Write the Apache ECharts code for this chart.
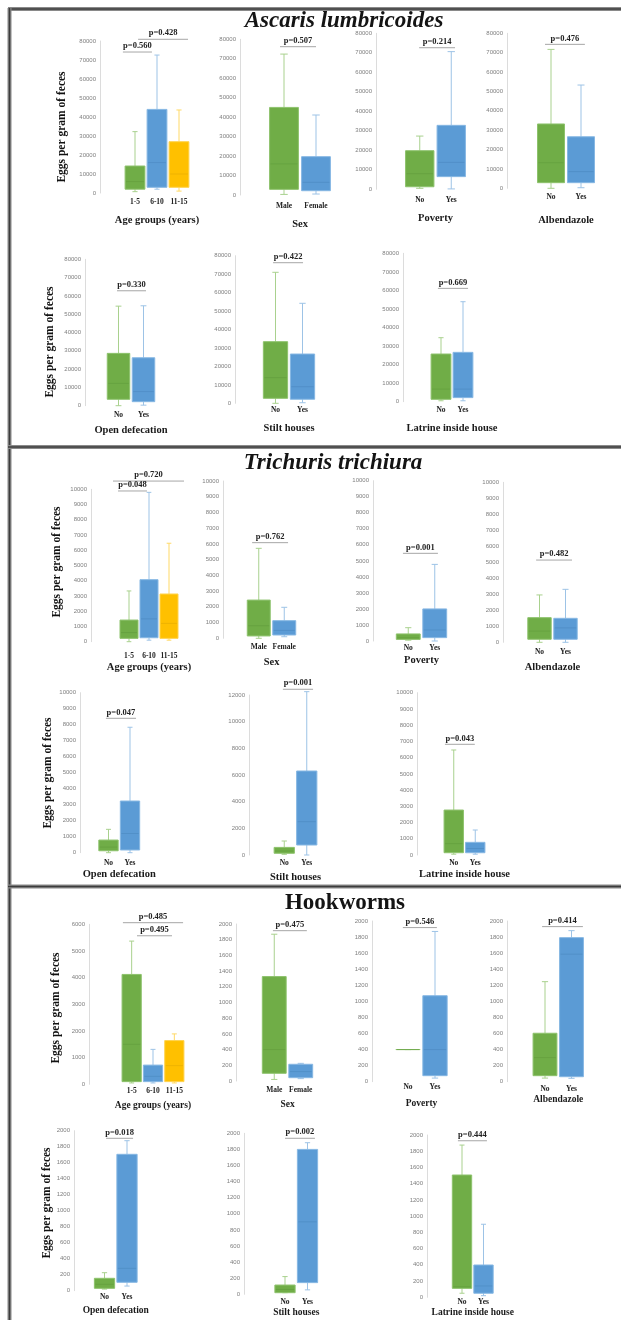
<!DOCTYPE html>
<html><head><meta charset="utf-8">
<script src="https://cdn.jsdelivr.net/npm/echarts@6/dist/echarts.min.js"></script>
<style>html,body{margin:0;padding:0;background:#fff}#c{width:621px;height:1320px}</style>
</head><body><div id="c"></div>
<script>
// ================= DATA =================
const parasiteNames = ['Ascaris lumbricoides', 'Trichuris trichiura', 'Hookworms'];
const factorNames = ['Age groups (years)', 'Sex', 'Poverty', 'Albendazole', 'Open defecation', 'Stilt houses', 'Latrine inside house'];
const ageCats = ['1-5', '6-10', '11-15'];
const sexCats = ['Male', 'Female'];
const noYesCats = ['No', 'Yes'];
const yAxisTitle = 'Eggs per gram of feces';

// each group: [min, Q1, median, Q3, max]  (eggs per gram of feces)
const ascarisAge = [[700, 2000, 6000, 14200, 32300], [2000, 3000, 16000, 44000, 72600], [1000, 3000, 10000, 27000, 43700]];
const ascarisSex = [[300, 2900, 16000, 45000, 72400], [500, 2200, 6500, 19700, 41100]];
const ascarisPoverty = [[500, 1300, 8000, 19800, 27300], [200, 6500, 13800, 32800, 70600]];
const ascarisAlbendazole = [[0, 2900, 13200, 33200, 71700], [300, 2900, 8600, 26600, 53300]];
const ascarisOpenDef = [[0, 3500, 12200, 28600, 54400], [300, 2200, 7700, 26200, 54600]];
const ascarisStilt = [[0, 2700, 13900, 33400, 71000], [300, 2200, 9000, 26700, 54200]];
const ascarisLatrine = [[500, 1300, 6800, 25700, 34500], [500, 2200, 6800, 26600, 53900]];

const trichurisAge = [[0, 220, 600, 1420, 3330], [100, 260, 1500, 4070, 9800], [100, 220, 1200, 3130, 6460]];
const trichurisSex = [[0, 150, 800, 2430, 5720], [100, 210, 500, 1120, 1970]];
const trichurisPoverty = [[50, 100, 200, 440, 830], [0, 210, 690, 2000, 4780]];
const trichurisAlbendazole = [[0, 190, 700, 1540, 2960], [0, 190, 900, 1500, 3310]];
const trichurisOpenDef = [[0, 120, 350, 790, 1460], [0, 170, 1200, 3230, 7840]];
const trichurisStilt = [[50, 130, 300, 570, 1050], [0, 750, 2500, 6300, 12250]];
const trichurisLatrine = [[50, 140, 700, 2770, 6470], [50, 140, 400, 780, 1540]];

const hookwormAge = [[50, 100, 1500, 4120, 5370], [50, 100, 300, 720, 1310], [50, 100, 700, 1640, 1890]];
const hookwormSex = [[20, 98, 400, 1330, 1870], [30, 42, 120, 213, 225]];
const hookwormPoverty = [[400, 400, 400, 400, 400], [45, 75, 400, 1070, 1870]];
const hookwormAlbendazole = [[45, 75, 300, 603, 1245], [42, 62, 1587, 1793, 1880]];
const hookwormOpenDef = [[20, 30, 80, 155, 225], [58, 105, 280, 1705, 1875]];
const hookwormStilt = [[20, 20, 60, 115, 220], [55, 145, 900, 1800, 1883]];
const hookwormLatrine = [[50, 110, 130, 1507, 1876], [20, 50, 140, 398, 900]];

// p-values
const ascarisP = [['p=0.428', 'p=0.560'], ['p=0.507'], ['p=0.214'], ['p=0.476'], ['p=0.330'], ['p=0.422'], ['p=0.669']];
const trichurisP = [['p=0.720', 'p=0.048'], ['p=0.762'], ['p=0.001'], ['p=0.482'], ['p=0.047'], ['p=0.001'], ['p=0.043']];
const hookwormP = [['p=0.485', 'p=0.495'], ['p=0.475'], ['p=0.546'], ['p=0.414'], ['p=0.018'], ['p=0.002'], ['p=0.444']];

// y-axis ticks (max, step)
const ascarisYMax = [80000, 80000, 80000, 80000, 80000, 80000, 80000];
const ascarisYStep = [10000, 10000, 10000, 10000, 10000, 10000, 10000];
const trichurisYMax = [10000, 10000, 10000, 10000, 10000, 12000, 10000];
const trichurisYStep = [1000, 1000, 1000, 1000, 1000, 2000, 1000];
const hookwormYMax = [6000, 2000, 2000, 2000, 2000, 2000, 2000];
const hookwormYStep = [1000, 200, 200, 200, 200, 200, 200];

// ================= LAYOUT (pixels) =================
// [axisLineX, plotTop, plotBottom, bandLeft, bandWidth, catLabelY, axisTitleY]
const LAYOUT = [
  [[100, 41, 193, 124, 66, 202, 220], [240, 39.3, 195, 268, 64, 206, 224], [376, 33.3, 189.3, 404, 63, 200, 218], [507, 33.3, 188.3, 536, 60, 197, 220],
   [85, 259.3, 405.7, 106, 50, 415, 430], [235, 255.7, 403.3, 262, 54, 410, 428], [403, 253.3, 401.7, 430, 44, 410, 428]],
  [[91, 489.3, 641.7, 119, 60, 655.7, 666.7], [223, 481, 638.3, 246, 51, 646.7, 661.7], [373, 480.7, 641, 395, 53, 648.3, 660], [503, 482.3, 642.3, 526.5, 52, 651.7, 666.7],
   [80, 692.7, 852.7, 97.75, 43, 862.7, 874], [249, 695, 855, 273, 45, 863.3, 876.7], [417, 692.7, 855, 443, 43, 862.7, 874.3]],
  [[89, 924.3, 1084.3, 121, 64, 1090.7, 1105], [236, 924, 1081, 261, 53, 1090, 1104.3], [372, 921, 1081.7, 394.5, 54, 1087.3, 1103.3], [507, 921, 1081.7, 531.75, 53, 1089, 1093],
   [74, 1130.7, 1290.7, 93.25, 45, 1296.7, 1310], [244, 1133.3, 1294.3, 273.75, 45, 1302.3, 1312.3], [427, 1135, 1297.3, 451.25, 43, 1302.3, 1312.3]]
];
// p-value bracket placement: [fromCat, toCat, level (data units)]
const P_LAYOUT = [
  [[[0.14, 2.41, 80900], [-0.55, 0.77, 74200]], [[-0.125, 1.0, 76200]], [[-0.02, 1.12, 72600]], [[-0.2, 1.13, 74300]], [[-0.06, 1.1, 62800]], [[-0.09, 1.02, 76200]], [[-0.14, 1.23, 61100]]],
  [[[-0.8, 2.75, 10540], [-0.55, 0.9, 9890]], [[-0.26, 1.15, 6080]], [[-0.2, 1.12, 5470]], [[-0.13, 1.25, 5140]], [[-0.12, 1.28, 8400]], [[-0.06, 1.28, 12430]], [[-0.41, 0.98, 6820]]],
  [[[-0.41, 2.41, 6060], [0.25, 1.89, 5570]], [[-0.05, 1.23, 1915]], [[-0.19, 1.07, 1918]], [[-0.11, 1.43, 1930]], [[0.07, 1.27, 1905]], [[0, 1.33, 1938]], [[-0.19, 1.16, 1929]]]
];
const TITLE_POS = [[344, 21], [333, 463], [345, 903]];
const YTITLE_POS = [[[62, 127], [50, 342]], [[57, 562], [48, 773]], [[56, 1008], [47, 1203]]];

const SERIF = '"Liberation Serif", "DejaVu Serif", serif';
const SANS = '"Liberation Sans", Arial, sans-serif';
const PALETTE = [
  { fill: '#70AD47', edge: '#8DC26C', whisker: '#A9D18E', median: '#5F9A3B' },
  { fill: '#5B9BD5', edge: '#86B7E3', whisker: '#9DC3E6', median: '#4A86BE' },
  { fill: '#FFC000', edge: '#FFD34F', whisker: '#FFD966', median: '#E3A900' }
];
const BOX_RATIO = 0.9;

const sections = [
  { sets: [ascarisAge, ascarisSex, ascarisPoverty, ascarisAlbendazole, ascarisOpenDef, ascarisStilt, ascarisLatrine], p: ascarisP, yMax: ascarisYMax, yStep: ascarisYStep },
  { sets: [trichurisAge, trichurisSex, trichurisPoverty, trichurisAlbendazole, trichurisOpenDef, trichurisStilt, trichurisLatrine], p: trichurisP, yMax: trichurisYMax, yStep: trichurisYStep },
  { sets: [hookwormAge, hookwormSex, hookwormPoverty, hookwormAlbendazole, hookwormOpenDef, hookwormStilt, hookwormLatrine], p: hookwormP, yMax: hookwormYMax, yStep: hookwormYStep }
];
const CATS = [ageCats, sexCats, noYesCats, noYesCats, noYesCats, noYesCats, noYesCats];

function renderBox(params, api) {
  const ci = api.value(0);
  const pMin = api.coord([ci, api.value(1)]);
  const pQ1 = api.coord([ci, api.value(2)]);
  const pMed = api.coord([ci, api.value(3)]);
  const pQ3 = api.coord([ci, api.value(4)]);
  const pMax = api.coord([ci, api.value(5)]);
  const bw = api.size([1, 0])[0] * BOX_RATIO;
  const x = pMin[0];
  const col = PALETTE[ci];
  const cap = bw * 0.26;
  const ws = { stroke: col.whisker, lineWidth: 1 };
  return {
    type: 'group', children: [
      { type: 'line', shape: { x1: x, y1: pMax[1], x2: x, y2: pQ3[1] }, style: ws },
      { type: 'line', shape: { x1: x, y1: pQ1[1], x2: x, y2: pMin[1] }, style: ws },
      { type: 'line', shape: { x1: x - cap / 2, y1: pMax[1], x2: x + cap / 2, y2: pMax[1] }, style: ws },
      { type: 'line', shape: { x1: x - cap / 2, y1: pMin[1], x2: x + cap / 2, y2: pMin[1] }, style: ws },
      { type: 'rect', shape: { x: x - bw / 2, y: pQ3[1], width: bw, height: pQ1[1] - pQ3[1] }, style: { fill: col.fill, stroke: col.edge, lineWidth: 1 } },
      { type: 'line', shape: { x1: x - bw / 2 + 1, y1: pMed[1], x2: x + bw / 2 - 1, y2: pMed[1] }, style: { stroke: col.median, lineWidth: 0.8, opacity: 0.7 } }
    ]
  };
}
function makePRender(texts) {
  return function (params, api) {
    const base = api.coord([api.value(0), api.value(1)]);
    const bw = api.size([1, 0])[0];
    const x1 = base[0] + api.value(2) * bw;
    const x2 = base[0] + api.value(3) * bw;
    const y = base[1];
    return {
      type: 'group', children: [
        { type: 'line', shape: { x1: x1, y1: y, x2: x2, y2: y }, style: { stroke: '#a6a6a6', lineWidth: 1 } },
        { type: 'text', x: (x1 + x2) / 2, y: y - 1.5, style: { text: texts[params.dataIndex], fill: '#222', font: 'bold 8.5px ' + SERIF, textAlign: 'center', textVerticalAlign: 'bottom' } }
      ]
    };
  };
}

const grids = [], xAxes = [], yAxes = [], series = [], graphics = [];
sections.forEach(function (sec, s) {
  for (let p = 0; p < 7; p++) {
    const L = LAYOUT[s][p];
    const axisX = L[0], top = L[1], y0 = L[2], left = L[3], width = L[4], labY = L[5], titY = L[6];
    const gi = grids.length;
    const fsName = s === 2 ? 9.5 : 10.5;
    const fsCat = 7.5;
    grids.push({ left: left, top: top, width: width, height: y0 - top, outerBoundsMode: 'none' });
    xAxes.push({
      type: 'category', gridIndex: gi, data: CATS[p],
      axisLine: { show: false }, axisTick: { show: false }, splitLine: { show: false },
      axisLabel: { interval: 0, margin: labY - y0 - fsCat / 2, fontSize: fsCat, fontWeight: 'bold', fontFamily: SERIF, color: '#222' },
      name: factorNames[p], nameLocation: 'middle', nameGap: titY - y0 - fsName / 2,
      nameTextStyle: { fontSize: fsName, fontWeight: 'bold', fontFamily: SERIF, color: '#1a1a1a' }
    });
    yAxes.push({
      type: 'value', gridIndex: gi, min: 0, max: sec.yMax[p], interval: sec.yStep[p],
      offset: left - axisX,
      axisLine: { show: true, lineStyle: { color: '#dcdcdc', width: 1 } },
      axisTick: { show: false }, splitLine: { show: false },
      axisLabel: { fontSize: 6, color: '#7f7f7f', margin: 4, fontFamily: SANS, formatter: function (v) { return String(v); } }
    });
    series.push({
      type: 'custom', xAxisIndex: gi, yAxisIndex: gi, clip: false,
      encode: { x: 0, y: [1, 2, 3, 4, 5] },
      data: sec.sets[p].map(function (v, i) { return [i].concat(v); }),
      renderItem: renderBox
    });
    series.push({
      type: 'custom', xAxisIndex: gi, yAxisIndex: gi, clip: false, silent: true,
      encode: { x: 0, y: 1 },
      data: P_LAYOUT[s][p].map(function (a) { return [0, a[2], a[0], a[1]]; }),
      renderItem: makePRender(sec.p[p])
    });
  }
  graphics.push({ type: 'text', x: TITLE_POS[s][0], y: TITLE_POS[s][1], style: { text: parasiteNames[s], font: (s < 2 ? 'italic ' : '') + 'bold 23px ' + SERIF, fill: '#141414', textAlign: 'center', textVerticalAlign: 'middle' } });
  YTITLE_POS[s].forEach(function (pos) {
    graphics.push({ type: 'text', x: pos[0], y: pos[1], rotation: Math.PI / 2, style: { text: yAxisTitle, font: 'bold 11.5px ' + SERIF, fill: '#111', textAlign: 'center', textVerticalAlign: 'middle' } });
  });
});
// frame lines
[[8, 9, 621, 9], [9.5, 8, 9.5, 1320], [8, 447, 621, 447], [8, 886.5, 621, 886.5]].forEach(function (l) {
  graphics.push({ type: 'line', shape: { x1: l[0], y1: l[1], x2: l[2], y2: l[3] }, style: { stroke: '#8a8a8a', lineWidth: 4 } });
  graphics.push({ type: 'line', shape: { x1: l[0], y1: l[1], x2: l[2], y2: l[3] }, style: { stroke: '#3c3c3c', lineWidth: 1.5 } });
});

const chart = echarts.init(document.getElementById('c'), null, { renderer: 'canvas' });
chart.setOption({
  animation: false,
  backgroundColor: '#ffffff',
  grid: grids, xAxis: xAxes, yAxis: yAxes, series: series,
  graphic: { elements: graphics }
});
</script></body></html>
